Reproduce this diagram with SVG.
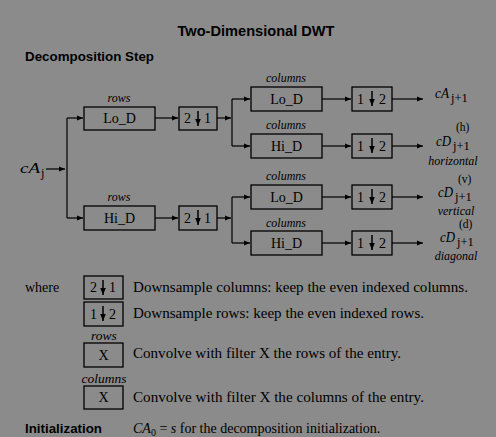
<svg xmlns="http://www.w3.org/2000/svg" width="496" height="437" viewBox="0 0 496 437">
<defs>
<marker id="ah" viewBox="0 0 10 10" refX="10" refY="5" markerWidth="6" markerHeight="6" markerUnits="userSpaceOnUse" orient="auto"><path d="M0,1 L10,5 L0,9 z" fill="#000"/></marker>
<marker id="dn" viewBox="0 0 10 10" refX="10" refY="5" markerWidth="7" markerHeight="7" markerUnits="userSpaceOnUse" orient="auto"><path d="M0,1 L10,5 L0,9 z" fill="#000"/></marker>
<style>
.bx{fill:none;stroke:#000;stroke-width:1.3}
.ln{fill:none;stroke:#000;stroke-width:1.2}
.ar{fill:none;stroke:#000;stroke-width:1.2;marker-end:url(#ah)}
.da{stroke:#000;stroke-width:1.5;marker-end:url(#dn)}
.t{font-family:"Liberation Serif",serif;font-size:14px;fill:#000}
.c{text-anchor:middle}
.it{font-family:"Liberation Serif",serif;font-style:italic;font-size:12px;fill:#000;text-anchor:middle}
.il{font-family:"Liberation Serif",serif;font-style:italic;font-size:13.5px;fill:#000;text-anchor:middle}
.b{font-family:"Liberation Sans",Arial,sans-serif;font-weight:bold;fill:#000}
.m{font-family:"Liberation Serif",serif;font-style:italic;font-size:15px;fill:#000}
.s{font-family:"Liberation Serif",serif;font-size:12.5px;fill:#000}
.p{font-family:"Liberation Serif",serif;font-size:11.5px;fill:#000}
</style>
</defs>
<rect width="496" height="437" fill="#8b8b8b"/>
<text class="b" x="256" y="36" font-size="15" text-anchor="middle" textLength="157" lengthAdjust="spacingAndGlyphs">Two-Dimensional DWT</text>
<text class="b" x="25" y="61" font-size="13.5" textLength="129" lengthAdjust="spacingAndGlyphs">Decomposition Step</text>

<g id="connectors">
<path class="ar" d="M46,169 H65"/>
<path class="ln" d="M67,118 V218"/>
<path class="ar" d="M67,118 H83"/>
<path class="ar" d="M67,218 H83"/>
<path class="ar" d="M155,118 H178"/>
<path class="ar" d="M155,218 H178"/>
<path class="ar" d="M217,118 H231"/>
<path class="ar" d="M217,218 H231"/>
<path class="ln" d="M232,99 V146"/>
<path class="ln" d="M232,197 V243"/>
<path class="ar" d="M232,99 H250"/>
<path class="ar" d="M232,146 H250"/>
<path class="ar" d="M232,197 H250"/>
<path class="ar" d="M232,243 H250"/>
<path class="ar" d="M322,99 H351"/>
<path class="ar" d="M322,146 H351"/>
<path class="ar" d="M322,197 H351"/>
<path class="ar" d="M322,243 H351"/>
<path class="ar" d="M392,99 H423"/>
<path class="ar" d="M392,146 H423"/>
<path class="ar" d="M392,197 H423"/>
<path class="ar" d="M392,243 H423"/>
</g>

<g id="input"><text class="m" x="20" y="173" textLength="20" lengthAdjust="spacingAndGlyphs">cA</text><text class="s" x="41" y="177">j</text></g>

<g id="rowLo"><text class="it" x="119" y="102">rows</text><rect class="bx" x="84" y="107" width="71" height="23"/><text class="t c" x="119.5" y="123">Lo_D</text></g>
<g id="rowHi"><text class="it" x="119" y="201">rows</text><rect class="bx" x="84" y="206" width="71" height="24"/><text class="t c" x="119.5" y="223">Hi_D</text></g>

<g id="ds21a"><rect class="bx" x="179" y="107" width="38" height="23"/><text class="t" x="184" y="123">2</text><text class="t" x="204" y="123">1</text><line class="da" x1="198" y1="111" x2="198" y2="126"/></g>
<g id="ds21b"><rect class="bx" x="179" y="206" width="38" height="24"/><text class="t" x="184" y="223">2</text><text class="t" x="204" y="223">1</text><line class="da" x1="198" y1="210" x2="198" y2="225"/></g>

<g id="colLo1"><text class="it" x="286" y="82">columns</text><rect class="bx" x="251" y="87" width="71" height="24"/><text class="t c" x="286.5" y="104">Lo_D</text></g>
<g id="colHi1"><text class="it" x="286" y="129">columns</text><rect class="bx" x="251" y="134" width="71" height="24"/><text class="t c" x="286.5" y="151">Hi_D</text></g>
<g id="colLo2"><text class="it" x="286" y="180">columns</text><rect class="bx" x="251" y="185" width="71" height="24"/><text class="t c" x="286.5" y="202">Lo_D</text></g>
<g id="colHi2"><text class="it" x="286" y="227">columns</text><rect class="bx" x="251" y="231" width="71" height="24"/><text class="t c" x="286.5" y="248">Hi_D</text></g>

<g id="ds12a"><rect class="bx" x="352" y="87" width="40" height="24"/><text class="t" x="357" y="104">1</text><text class="t" x="379" y="104">2</text><line class="da" x1="372" y1="91" x2="372" y2="106"/></g>
<g id="ds12b"><rect class="bx" x="352" y="134" width="40" height="24"/><text class="t" x="357" y="151">1</text><text class="t" x="379" y="151">2</text><line class="da" x1="372" y1="138" x2="372" y2="153"/></g>
<g id="ds12c"><rect class="bx" x="352" y="185" width="40" height="24"/><text class="t" x="357" y="202">1</text><text class="t" x="379" y="202">2</text><line class="da" x1="372" y1="189" x2="372" y2="204"/></g>
<g id="ds12d"><rect class="bx" x="352" y="231" width="40" height="24"/><text class="t" x="357" y="248">1</text><text class="t" x="379" y="248">2</text><line class="da" x1="372" y1="235" x2="372" y2="250"/></g>

<g id="outA"><text class="m" x="435" y="98" textLength="14" lengthAdjust="spacingAndGlyphs">cA</text><text class="s" x="451" y="102">j+1</text></g>
<g id="outH"><text class="p" x="456" y="131">(h)</text><text class="m" x="436" y="146" textLength="15" lengthAdjust="spacingAndGlyphs">cD</text><text class="s" x="453" y="150">j+1</text><text class="it" x="453" y="165">horizontal</text></g>
<g id="outV"><text class="p" x="458" y="183">(v)</text><text class="m" x="438" y="197" textLength="15" lengthAdjust="spacingAndGlyphs">cD</text><text class="s" x="455" y="201">j+1</text><text class="it" x="456" y="215">vertical</text></g>
<g id="outD"><text class="p" x="459" y="228">(d)</text><text class="m" x="440" y="242" textLength="15" lengthAdjust="spacingAndGlyphs">cD</text><text class="s" x="457" y="246">j+1</text><text class="it" x="456" y="260">diagonal</text></g>

<g id="legend">
<text class="t" x="25" y="292">where</text>
<rect class="bx" x="84" y="276" width="39" height="23"/><text class="t" x="90" y="292">2</text><text class="t" x="109" y="292">1</text><line class="da" x1="103" y1="280" x2="103" y2="295"/>
<text class="t" x="133" y="292" textLength="335" lengthAdjust="spacingAndGlyphs">Downsample columns: keep the even indexed columns.</text>
<rect class="bx" x="84" y="302" width="39" height="24"/><text class="t" x="90" y="319">1</text><text class="t" x="109" y="319">2</text><line class="da" x1="103" y1="306" x2="103" y2="321"/>
<text class="t" x="133" y="318" textLength="291" lengthAdjust="spacingAndGlyphs">Downsample rows: keep the even indexed rows.</text>
<text class="il" x="104" y="340">rows</text>
<rect class="bx" x="84" y="343" width="39" height="24"/><text class="t c" x="103.5" y="360">X</text>
<text class="t" x="133" y="358" textLength="268" lengthAdjust="spacingAndGlyphs">Convolve with filter X the rows of the entry.</text>
<text class="il" x="104" y="383">columns</text>
<rect class="bx" x="84" y="386" width="39" height="23"/><text class="t c" x="103.5" y="402">X</text>
<text class="t" x="133" y="402" textLength="291" lengthAdjust="spacingAndGlyphs">Convolve with filter X the columns of the entry.</text>
<text class="b" x="25" y="433" font-size="13.5" textLength="77" lengthAdjust="spacingAndGlyphs">Initialization</text>
<text class="t" x="133" y="433"><tspan font-style="italic">CA</tspan><tspan font-size="10" dy="3">0</tspan><tspan dy="-3"> = </tspan><tspan font-style="italic">s</tspan> for the decomposition initialization.</text>
</g>
</svg>
